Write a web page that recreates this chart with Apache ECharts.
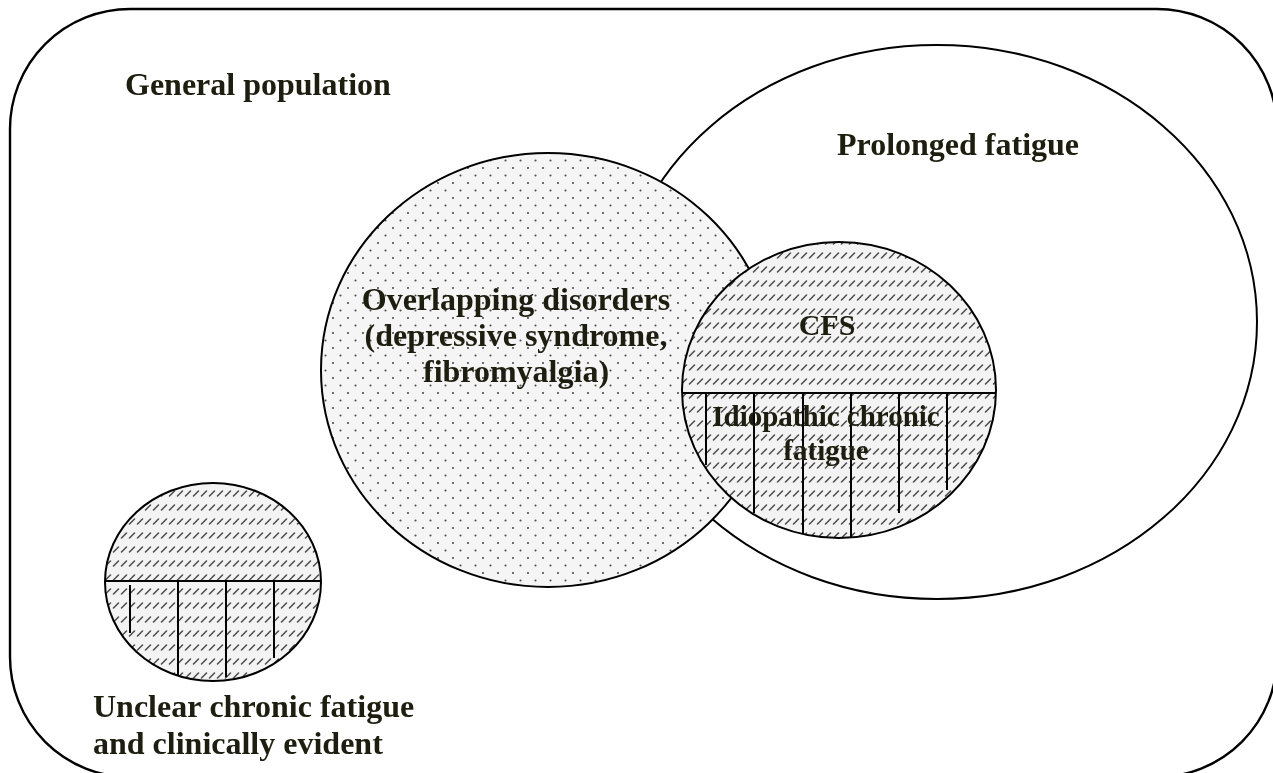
<!DOCTYPE html>
<html>
<head>
<meta charset="utf-8">
<script src="https://cdn.jsdelivr.net/npm/echarts/dist/echarts.min.js"></script>
<style>
html,body{margin:0;padding:0;background:#ffffff;}
#chart{width:1273px;height:773px;}
</style>
</head>
<body>
<div id="chart"></div>
<script>
// ---- diagram data (in diagram units on a 1273 x 773 plane) ----
const regionNames   = ['Prolonged fatigue', 'Overlapping disorders', 'CFS', 'Unclear chronic fatigue'];
const regionCenterX = [937, 548, 839, 213];
const regionCenterY = [322, 370, 390, 582];
const regionRadiusX = [320, 227, 157, 108];
const regionRadiusY = [277, 217, 148, 99];
const regionFill    = ['plain', 'dots', 'hatch', 'hatch'];

const dividerRegion = [2, 3];
const dividerY      = [393, 581];

const stripeX      = [706, 754, 803, 851, 899, 947, 130, 178, 226, 274];
const stripeTop    = [393, 393, 393, 393, 393, 393, 585, 581, 581, 581];
const stripeBottom = [465, 513, 534, 537, 513, 490, 633, 676, 677, 658];

const frameBox = [10, 9, 1277, 777];

const labelLines = [
  ['General population'],
  ['Prolonged fatigue'],
  ['Overlapping disorders', '(depressive syndrome,', 'fibromyalgia)'],
  ['CFS'],
  ['Idiopathic chronic', 'fatigue'],
  ['Unclear chronic fatigue', 'and clinically evident']
];
const labelX     = [125, 958, 516, 827, 826, 93];
const labelY     = [87, 147, 302, 327, 419, 709];
const labelAlign = ['left', 'center', 'center', 'center', 'center', 'left'];
const labelSize  = [32, 32, 32, 30, 29, 32];
const labelGap   = [36, 36, 36, 36, 34, 37];

// ---- fill patterns ----
function hatchTile() {
  const c = document.createElement('canvas');
  c.width = 16; c.height = 14;
  const g = c.getContext('2d');
  g.fillStyle = '#f3f3f3'; g.fillRect(0, 0, 16, 14);
  g.strokeStyle = '#4a4a4a'; g.lineWidth = 1.5; g.lineCap = 'round';
  [0, 8].forEach(function (x0) {
    g.beginPath(); g.moveTo(x0 + 1.5, 6); g.lineTo(x0 + 6.5, 1); g.stroke();
  });
  return c;
}
function dotTile() {
  const c = document.createElement('canvas');
  c.width = 15; c.height = 15;
  const g = c.getContext('2d');
  g.fillStyle = '#f5f5f5'; g.fillRect(0, 0, 15, 15);
  g.fillStyle = '#4d4d4d';
  [[3, 3], [10.5, 10.5]].forEach(function (p) {
    g.beginPath(); g.arc(p[0], p[1], 1.05, 0, Math.PI * 2); g.fill();
  });
  return c;
}
const fills = {
  plain: '#ffffff',
  dots: { image: dotTile(), repeat: 'repeat' },
  hatch: { image: hatchTile(), repeat: 'repeat' }
};
const INK = '#1e1e10';
const FONT = '"Liberation Serif", "Times New Roman", serif';

const chart = echarts.init(document.getElementById('chart'), null, { renderer: 'canvas' });

const regionData = regionNames.map(function (n, i) {
  return [regionCenterX[i], regionCenterY[i], regionRadiusX[i], regionRadiusY[i], i];
});
const dividerData = dividerRegion.map(function (r, i) { return [r, dividerY[i]]; });
const stripeData = stripeX.map(function (x, i) { return [x, stripeTop[i], stripeBottom[i]]; });
const labelData = labelLines.map(function (l, i) { return [labelX[i], labelY[i], i]; });

chart.setOption({
  animation: false,
  backgroundColor: '#ffffff',
  grid: { left: 0, right: 0, top: 0, bottom: 0 },
  xAxis: { type: 'value', min: 0, max: 1273, show: false },
  yAxis: { type: 'value', min: 0, max: 773, inverse: true, show: false },
  series: [
    {
      type: 'custom', name: 'frame', clip: false, z: 1,
      data: [frameBox],
      renderItem: function (params, api) {
        const p0 = api.coord([api.value(0), api.value(1)]);
        const p1 = api.coord([api.value(2), api.value(3)]);
        return {
          type: 'rect',
          shape: { x: p0[0], y: p0[1], width: p1[0] - p0[0], height: p1[1] - p0[1], r: 120 },
          style: { fill: '#ffffff', stroke: '#000000', lineWidth: 2.4 }
        };
      }
    },
    {
      type: 'custom', name: 'regions', clip: false, z: 2,
      data: regionData,
      renderItem: function (params, api) {
        const i = api.value(4);
        const c = api.coord([api.value(0), api.value(1)]);
        const s = api.size([api.value(2), api.value(3)]);
        return {
          type: 'ellipse',
          z2: i,
          shape: { cx: c[0], cy: c[1], rx: s[0], ry: s[1] },
          style: { fill: fills[regionFill[i]], stroke: '#000000', lineWidth: 2 }
        };
      }
    },
    {
      type: 'custom', name: 'dividers', clip: false, z: 3,
      data: dividerData,
      renderItem: function (params, api) {
        const r = api.value(0), y = api.value(1);
        const dy = (y - regionCenterY[r]) / regionRadiusY[r];
        const hw = regionRadiusX[r] * Math.sqrt(Math.max(0, 1 - dy * dy));
        const a = api.coord([regionCenterX[r] - hw, y]);
        const b = api.coord([regionCenterX[r] + hw, y]);
        return {
          type: 'line',
          shape: { x1: a[0], y1: a[1], x2: b[0], y2: b[1] },
          style: { stroke: '#000000', lineWidth: 2 }
        };
      }
    },
    {
      type: 'custom', name: 'stripes', clip: false, z: 3,
      data: stripeData,
      renderItem: function (params, api) {
        const a = api.coord([api.value(0), api.value(1)]);
        const b = api.coord([api.value(0), api.value(2)]);
        return {
          type: 'line',
          shape: { x1: a[0], y1: a[1], x2: b[0], y2: b[1] },
          style: { stroke: '#000000', lineWidth: 2 }
        };
      }
    },
    {
      type: 'custom', name: 'labels', clip: false, z: 4,
      data: labelData,
      renderItem: function (params, api) {
        const i = api.value(2);
        const p = api.coord([api.value(0), api.value(1)]);
        const gap = labelGap[i];
        return {
          type: 'text',
          style: {
            text: labelLines[i].join('\n'),
            x: p[0], y: p[1] - gap / 2,
            align: labelAlign[i], verticalAlign: 'top',
            lineHeight: gap,
            font: 'bold ' + labelSize[i] + 'px ' + FONT,
            fill: INK
          }
        };
      }
    }
  ]
});
</script>
</body>
</html>
